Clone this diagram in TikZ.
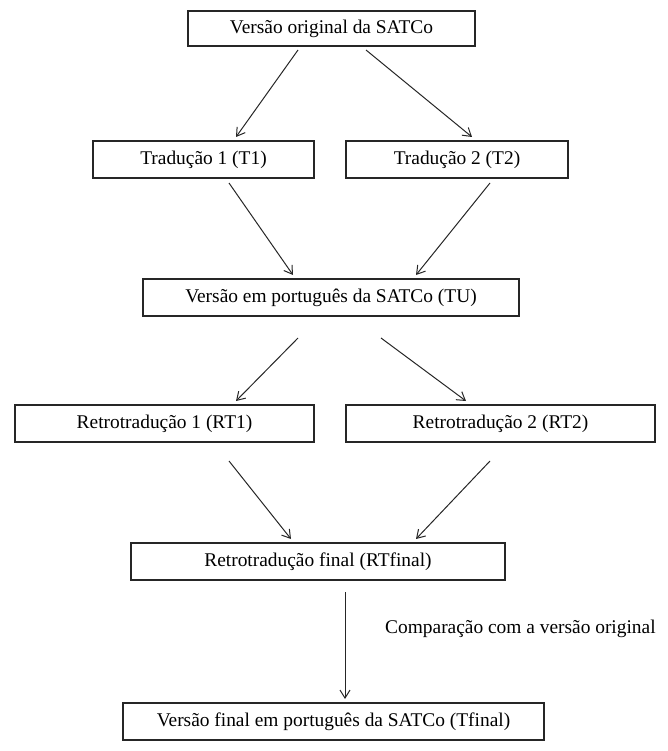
\documentclass[tikz,border=0pt]{standalone}
\usepackage{fontspec}
\setmainfont{Liberation Serif}
\usetikzlibrary{arrows.meta}
\begin{document}
\begin{tikzpicture}[x=1pt,y=-1pt,
  box/.style={draw=black!85,line width=1.1pt,inner sep=0pt,font=\fontsize{19.4}{21}\selectfont},
  conn/.style={draw=black!85,line width=1pt,-{Straight Barb[length=8pt,width=10pt]}},
  lbl/.style={font=\fontsize{19.4}{21}\selectfont,inner sep=0pt,anchor=west}]
\useasboundingbox (0,0) rectangle (668,751);
\node[box,minimum width=287pt,minimum height=35pt] (orig) at (331.5,28.5) {Versão original da SATCo};
\node[box,minimum width=221pt,minimum height=37pt] (t1) at (203.5,159.5) {Tradução 1 (T1)};
\node[box,minimum width=222pt,minimum height=37pt] (t2) at (457,159.5) {Tradução 2 (T2)};
\node[box,minimum width=376pt,minimum height=37pt] (tu) at (331,297.5) {Versão em português da SATCo (TU)};
\node[box,minimum width=299pt,minimum height=37pt] (rt1) at (164.5,423.5) {Retrotradução 1 (RT1)};
\node[box,minimum width=309pt,minimum height=37pt] (rt2) at (500.5,423.5) {Retrotradução 2 (RT2)};
\node[box,minimum width=374pt,minimum height=37pt] (rtf) at (318,561.5) {Retrotradução final (RTfinal)};
\node[box,minimum width=421pt,minimum height=37pt] (tf) at (333.5,721.5) {Versão final em português da SATCo (Tfinal)};
\node[lbl] (cmp) at (385,629) {Comparação com a versão original};
% connector endpoints
\coordinate (a1s) at (298,50);  \coordinate (a1e) at (236,137);
\coordinate (a2s) at (366,50);  \coordinate (a2e) at (472,137);
\coordinate (a3s) at (229,183); \coordinate (a3e) at (293,275);
\coordinate (a4s) at (490,183); \coordinate (a4e) at (416,275);
\coordinate (a5s) at (298,338); \coordinate (a5e) at (236,401);
\coordinate (a6s) at (381,338); \coordinate (a6e) at (466,401);
\coordinate (a7s) at (229,461); \coordinate (a7e) at (291,539);
\coordinate (a8s) at (490,461); \coordinate (a8e) at (416,539);
\coordinate (a9s) at (345,592); \coordinate (a9e) at (345,699);
\draw[conn] (a1s) -- (a1e);
\draw[conn] (a2s) -- (a2e);
\draw[conn] (a3s) -- (a3e);
\draw[conn] (a4s) -- (a4e);
\draw[conn] (a5s) -- (a5e);
\draw[conn] (a6s) -- (a6e);
\draw[conn] (a7s) -- (a7e);
\draw[conn] (a8s) -- (a8e);
\draw[conn] (a9s) -- (a9e);
\end{tikzpicture}
\end{document}
